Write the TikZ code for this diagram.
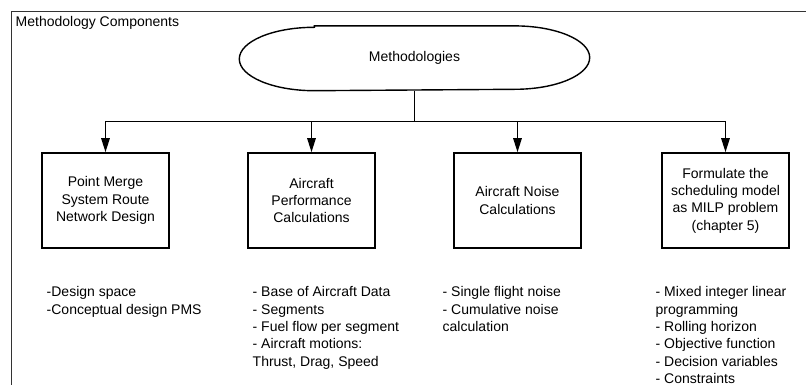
\documentclass[tikz,border=0pt]{standalone}
\usepackage{fontspec}
\setmainfont{Liberation Sans}
\usetikzlibrary{arrows.meta}
\begin{document}
\begin{tikzpicture}[
	x=1pt, y=-1pt,
	line width=1.4pt,
	font=\fontsize{14}{17.3}\selectfont,
	minimum/.style={
		minimum width = 127pt,
		minimum height = 95pt
	},
	box/.style={
		draw,
		rectangle,
		line width=1.6pt,
		inner sep =+ 0pt,
		align=center,
		minimum
	},
	notes/.style={
		anchor=north west,
		align=left,
		inner sep =+ 0pt
	},
	arrow/.style={
		-{Triangle[length=14pt,width=8.5pt]}
	}
]
\useasboundingbox (0,0) rectangle (806,385);
\draw[line width=0.9pt, black!80] (806,11) -| (11,385);
\node[anchor=base west, inner sep=0pt] (title) at (15,27) {Methodology Components};

\node[minimum width=349pt, minimum height=63.4pt, inner sep=0pt] (meth) at (414.5,58.3) {Methodologies};
\draw ([xshift=75pt]meth.north west) -- ([xshift=-75pt]meth.north east)
	arc[start angle=90, end angle=-90, x radius=75pt, y radius=31.7pt]
	-- ([xshift=75pt]meth.south west)
	arc[start angle=270, end angle=90, x radius=75pt, y radius=31.7pt] -- cycle;

\node[box] (pms)   at (105.5,200.5) {Point Merge\\System Route\\Network Design};
\node[box] (perf)  at (311.5,200.5) {Aircraft\\Performance\\Calculations};
\node[box] (noise) at (517.5,200.5) {Aircraft Noise\\Calculations};
\node[box] (milp)  at (725.5,200.5) {Formulate the\\scheduling model\\as MILP problem\\(chapter 5)};

\coordinate (split) at (414.5,121.5);
\draw (meth.south) -- (split);
\foreach \b in {pms,perf,noise,milp}
	\draw[arrow] (split) -| (\b.north);

\node[notes] (pmsnotes)   at (46,286)  {-Design space\\-Conceptual design PMS};
\node[notes] (perfnotes)  at (252,286) {- Base of Aircraft Data\\- Segments\\- Fuel flow per segment\\- Aircraft motions:\\Thrust, Drag, Speed};
\node[notes] (noisenotes) at (442,286) {- Single flight noise\\- Cumulative noise\\calculation};
\node[notes] (milpnotes)  at (655,286) {- Mixed integer linear\\programming\\- Rolling horizon\\- Objective function\\- Decision variables\\- Constraints};

\end{tikzpicture}
\end{document}
